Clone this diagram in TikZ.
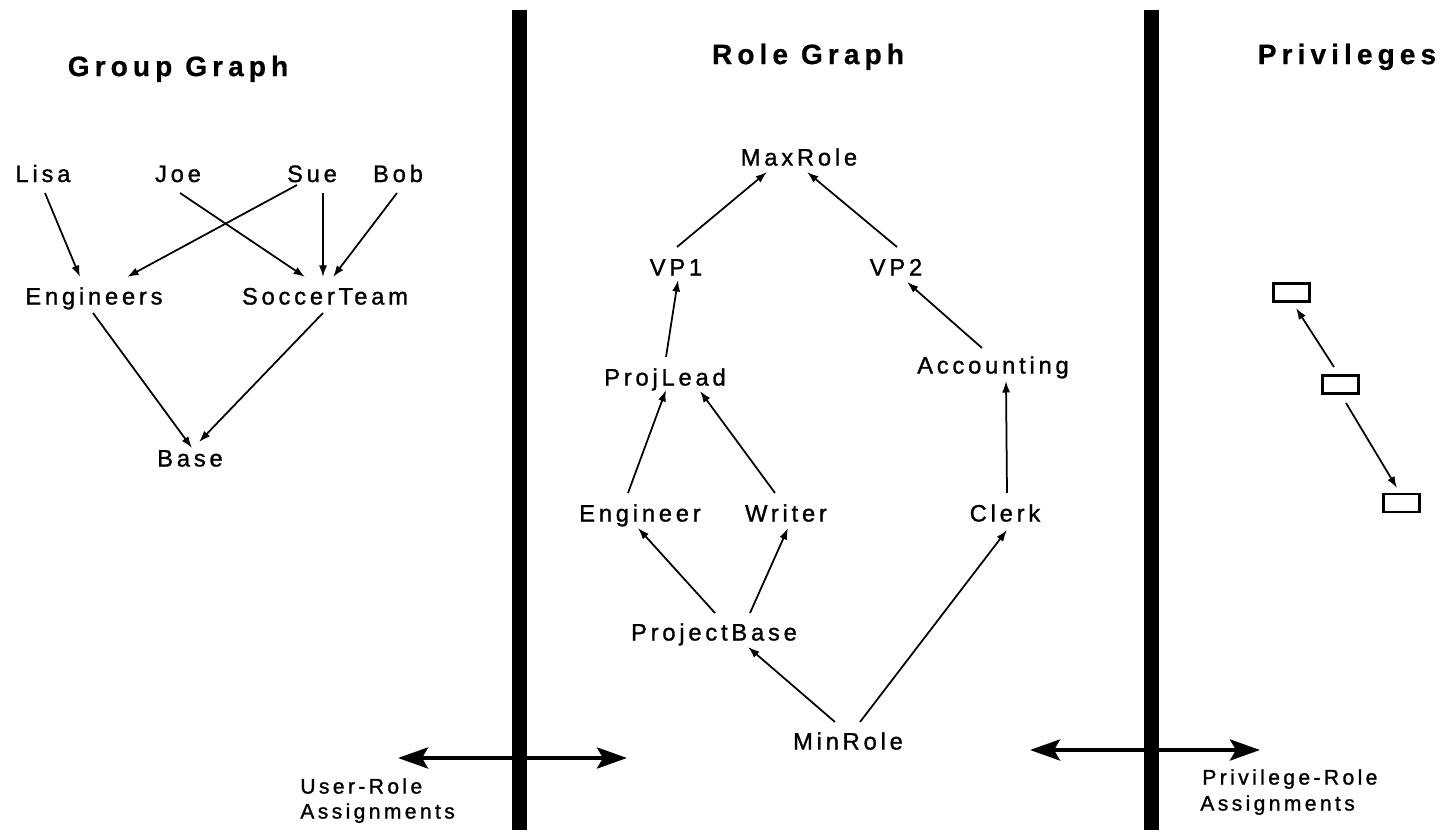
\documentclass[tikz,border=0pt]{standalone}
\usepackage{fontspec}
\setmainfont{Liberation Sans}
\newfontfamily\labfont[LetterSpace=16,FakeBold=1.2]{Liberation Sans}
\newfontfamily\titfont[LetterSpace=18,FakeBold=0.6]{Liberation Sans Bold}
\usetikzlibrary{calc,arrows.meta}
\tikzset{
  lab/.style={font=\labfont\fontsize{13.5}{16}\selectfont, inner sep=0pt, text height=9.7pt, text depth=0pt},
  ttl/.style={font=\titfont\fontsize{16}{19}\selectfont, inner sep=0pt, text height=11.5pt, text depth=0pt},
  small/.style={font=\labfont\fontsize{12}{14}\selectfont, inner sep=0pt, text height=8.6pt, text depth=0pt, anchor=west},
  arr/.style={-{Latex[length=2.3mm,width=1.6mm]}, line width=1pt},
  bigarr/.style={{Stealth[length=6mm,width=4.2mm,inset=1.2mm]}-{Stealth[length=6mm,width=4.2mm,inset=1.2mm]}, line width=2.4pt},
  privbox/.style={draw, line width=1.7pt, minimum width=0.72cm, minimum height=0.36cm, inner sep=0pt},
  bar/.style={fill=black}
}
\begin{document}
\begin{tikzpicture}[x=0.02cm,y=-0.02cm]
\useasboundingbox (0,0) rectangle (1441,830);
\fill[white] (0,0) rectangle (1441,830);

% separator bars
\fill[bar] (512,10) rectangle (527,830);
\fill[bar] (1144,10) rectangle (1159,830);

% titles
\node[ttl] (tg) at (178,66) {Group Graph};
\node[ttl] (tr) at (808,54) {Role Graph};
\node[ttl] (tp) at (1347,54) {Privileges};

% group graph
\node[lab] (Lisa) at (43,173.5) {Lisa};
\node[lab] (Joe) at (178,173.5) {Joe};
\node[lab] (Sue) at (312,173.5) {Sue};
\node[lab] (Bob) at (398,173.5) {Bob};
\node[lab] (Engineers) at (94,296) {Engineers};
\node[lab] (SoccerTeam) at (325,296) {SoccerTeam};
\node[lab] (Base) at (190,458) {Base};

\draw[arr] ($(Lisa)+(2,19.5)$) -- ($(Engineers)+(-14,-19)$);
\draw[arr] ($(Joe)+(2,19.5)$) -- ($(SoccerTeam)+(-20,-19)$);
\draw[arr] ($(Sue)+(-15,11.5)$) -- ($(Engineers)+(33,-19)$);
\draw[arr] ($(Sue)+(11,19.5)$) -- ($(SoccerTeam)+(-2,-19)$);
\draw[arr] ($(Bob)+(-1,19.5)$) -- ($(SoccerTeam)+(8,-19)$);
\draw[arr] ($(Engineers)+(-1,17)$) -- ($(Base)+(2,-10)$);
\draw[arr] ($(SoccerTeam)+(-2,17)$) -- ($(Base)+(9,-16)$);

% role graph
\node[lab] (MaxRole) at (799,157) {MaxRole};
\node[lab] (VP1) at (676,267) {VP1};
\node[lab] (VP2) at (896,267) {VP2};
\node[lab] (ProjLead) at (665,377) {ProjLead};
\node[lab] (Accounting) at (993,365) {Accounting};
\node[lab] (Engineer) at (640,513) {Engineer};
\node[lab] (Writer) at (786,513) {Writer};
\node[lab] (Clerk) at (1005,513) {Clerk};
\node[lab] (ProjectBase) at (714,632) {ProjectBase};
\node[lab] (MinRole) at (848,741) {MinRole};

\draw[arr] ($(VP1)+(1,-20)$) -- ($(MaxRole)+(-32,15)$);
\draw[arr] ($(VP2)+(1,-20)$) -- ($(MaxRole)+(8,15)$);
\draw[arr] ($(ProjLead)+(1,-20)$) -- ($(VP1)+(2,13)$);
\draw[arr] ($(Accounting)+(-11,-17)$) -- ($(VP2)+(11,15)$);
\draw[arr] ($(Engineer)+(-12,-20)$) -- ($(ProjLead)+(1,13)$);
\draw[arr] ($(Writer)+(-11,-20)$) -- ($(ProjLead)+(35,14)$);
\draw[arr] ($(Clerk)+(2,-20)$) -- ($(Accounting)+(13,16)$);
\draw[arr] ($(ProjectBase)+(1,-19)$) -- ($(Engineer)+(-2,15)$);
\draw[arr] ($(ProjectBase)+(36,-19)$) -- ($(Writer)+(2,15)$);
\draw[arr] ($(MinRole)+(-13,-19)$) -- ($(ProjectBase)+(34,15)$);
\draw[arr] ($(MinRole)+(12,-19)$) -- ($(Clerk)+(2,17)$);

% privileges
\node[privbox] (p1) at (1291.5,292.5) {};
\node[privbox] (p2) at (1340.5,384.5) {};
\node[privbox] (p3) at (1401.5,503) {};
\draw[arr] ($(p2)+(-6.5,-17.5)$) -- ($(p1)+(4.5,15.5)$);
\draw[arr] ($(p2)+(5.5,18.5)$) -- ($(p3)+(-4.5,-15)$);

% assignment arrows
\coordinate (ual) at (398,758);
\coordinate (uar) at (627,758);
\draw[bigarr] (ual) -- (uar);
\coordinate (pal) at (1030,750);
\coordinate (par) at (1260,750);
\draw[bigarr] (pal) -- (par);

\node[small] (ur1) at (300,786) {User-Role};
\node[small] (ur2) at (300,811) {Assignments};
\node[small] (pr1) at (1202,777) {Privilege-Role};
\node[small] (pr2) at (1200,803) {Assignments};
\end{tikzpicture}
\end{document}
